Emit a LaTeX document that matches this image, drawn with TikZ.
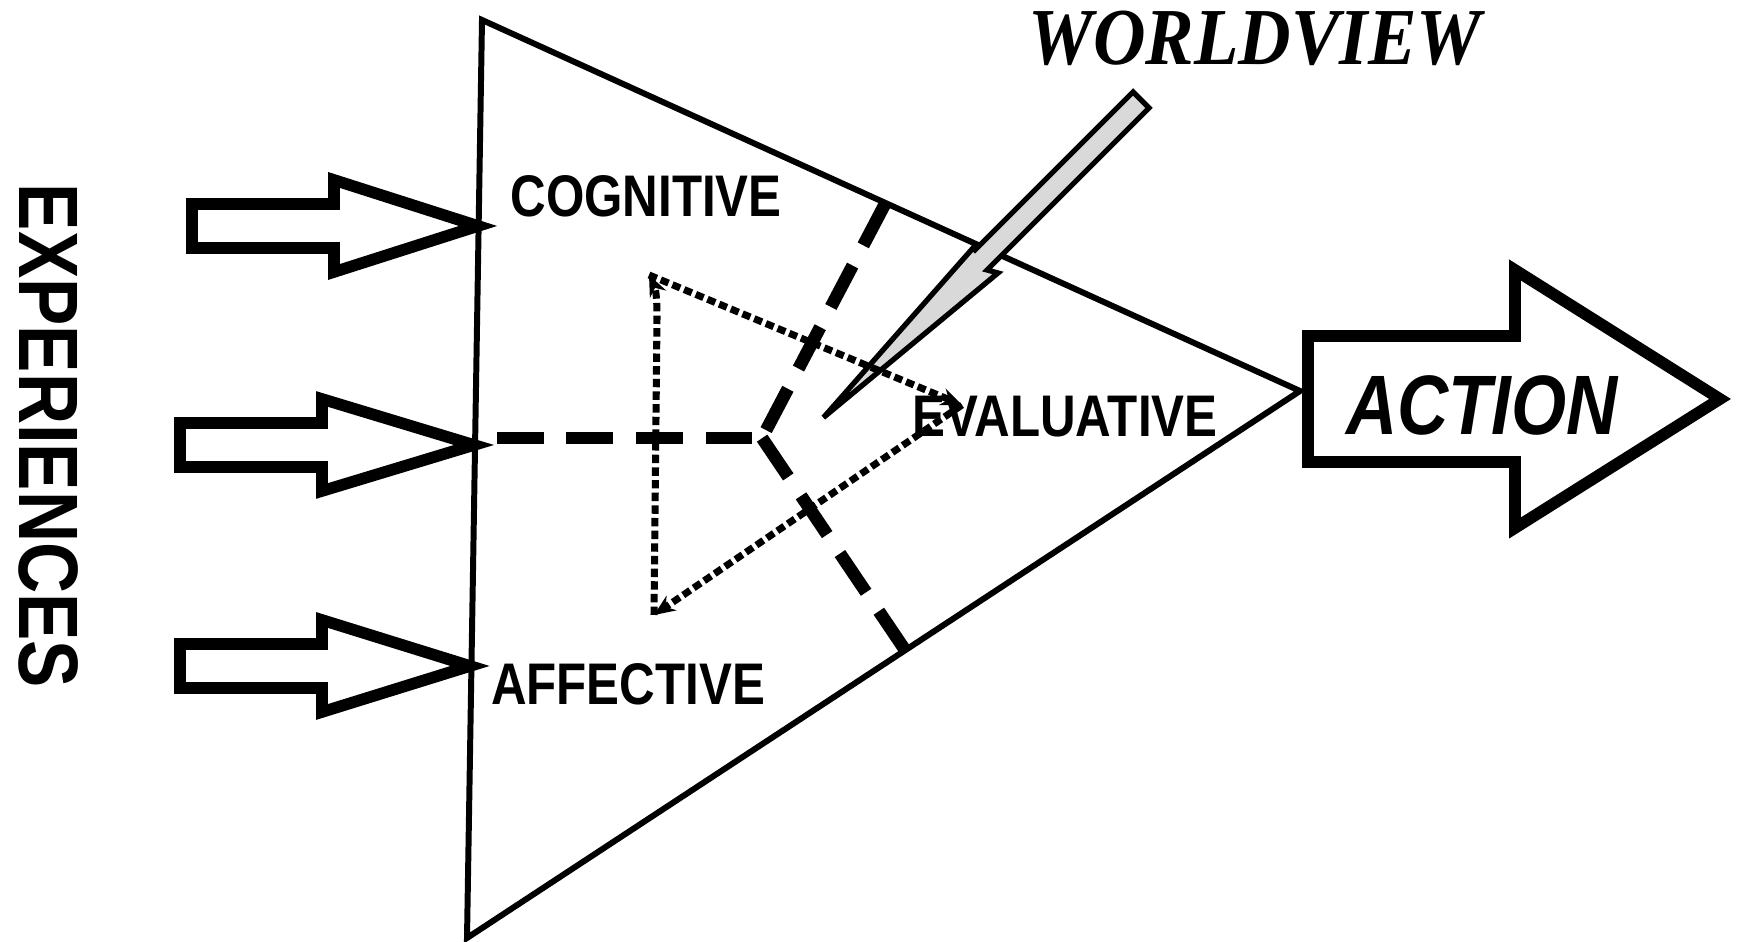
\documentclass[tikz,border=0pt]{standalone}
\usepackage{fontspec}
\setmainfont{Liberation Sans}
\newfontfamily\narrowsans[FakeStretch=0.84]{Liberation Sans}
\newfontfamily\narrowserif[FakeStretch=0.9]{Liberation Serif}
\usetikzlibrary{arrows.meta}

\tikzset{
	blockarrow/.style={draw=black, line width=3.3pt, fill=white, line join=miter},
	edgeline/.style={line width=1.7pt, line join=miter},
	dashline/.style={line width=3.6pt, dash pattern=on 13.3pt off 6.5pt},
	dotline/.style={line width=2pt, dash pattern=on 2.4pt off 1.2pt, -{Stealth[length=6pt,width=5pt]}},
	lbl/.style={font=\narrowsans\bfseries\fontsize{16.7}{19}\selectfont, inner sep=0pt},
}

\begin{document}
\begin{tikzpicture}
			\useasboundingbox (0,0) rectangle (17.41,9.42);

			\coordinate (T1) at (4.82,9.22);
			\coordinate (T2) at (4.67,0.04);
			\coordinate (T3) at (13.00,5.51);

			\draw[edgeline] (T1) -- (T2) -- (T3) -- cycle;

			% worldview needle
			\draw[line width=1.5pt, fill=gray!30, line join=miter] (11.33,8.50) -- (11.49,8.34) -- (9.87,6.72) -- (9.98,6.69) -- (8.235,5.245) -- (9.73,6.94) -- (9.75,6.92) -- cycle;

			\coordinate (J) at (7.62,5.04);
			\coordinate (jL) at (4.74,5.04);
			\coordinate (jT) at (8.85,7.38);
			\coordinate (jB) at (9.05,2.92);

			\draw[dashline, dash phase=13.3pt] (jL) -- (J);
			\draw[dashline] (jT) -- (J);
			\draw[dashline] (jB) -- (J);

			\node[lbl] (cog) at (6.46,7.46) {COGNITIVE};
			\node[lbl] (aff) at (6.28,2.58) {AFFECTIVE};
			\node[lbl] (eval) at (10.65,5.25) {EVALUATIVE};

			\coordinate (dA) at (6.49,6.67);
			\coordinate (dB) at (6.54,3.27);
			\coordinate (dC) at (9.62,5.37);

			\draw[dotline] (dA) -- (dC);
			\draw[dotline] (dC) -- (dB);
			\draw[dotline] (dB) -- (6.57,6.25) to[out=90,in=-65] (dA);

			% experiences in
			\foreach \xl/\xb/\xt/\yc in {1.92/3.34/4.78/7.16, 1.80/3.22/4.74/4.97, 1.80/3.22/4.70/2.76}
			\draw[blockarrow] (\xl,\yc+0.22) -- (\xb,\yc+0.22) -- (\xb,\yc+0.46) -- (\xt,\yc) -- (\xb,\yc-0.46) -- (\xb,\yc-0.22) -- (\xl,\yc-0.22) -- cycle;

			\node[font=\narrowsans\bfseries\fontsize{24}{27}\selectfont, inner sep=0pt, rotate=-90] (exp) at (0.49,5.06) {EXPERIENCES};

			% action out
			\draw[blockarrow] (13.08,6.06) -- (15.15,6.06) -- (15.15,6.72) -- (17.20,5.43) -- (15.15,4.14) -- (15.15,4.80) -- (13.08,4.80) -- cycle;
			\node[font=\narrowsans\bfseries\itshape\fontsize{24}{28}\selectfont, inner sep=0pt] (act) at (14.82,5.37) {ACTION};

			\node[font=\narrowserif\bfseries\itshape\fontsize{23}{27}\selectfont, inner sep=0pt] (wv) at (12.55,9.04) {WORLDVIEW};
		\end{tikzpicture}
\end{document}
